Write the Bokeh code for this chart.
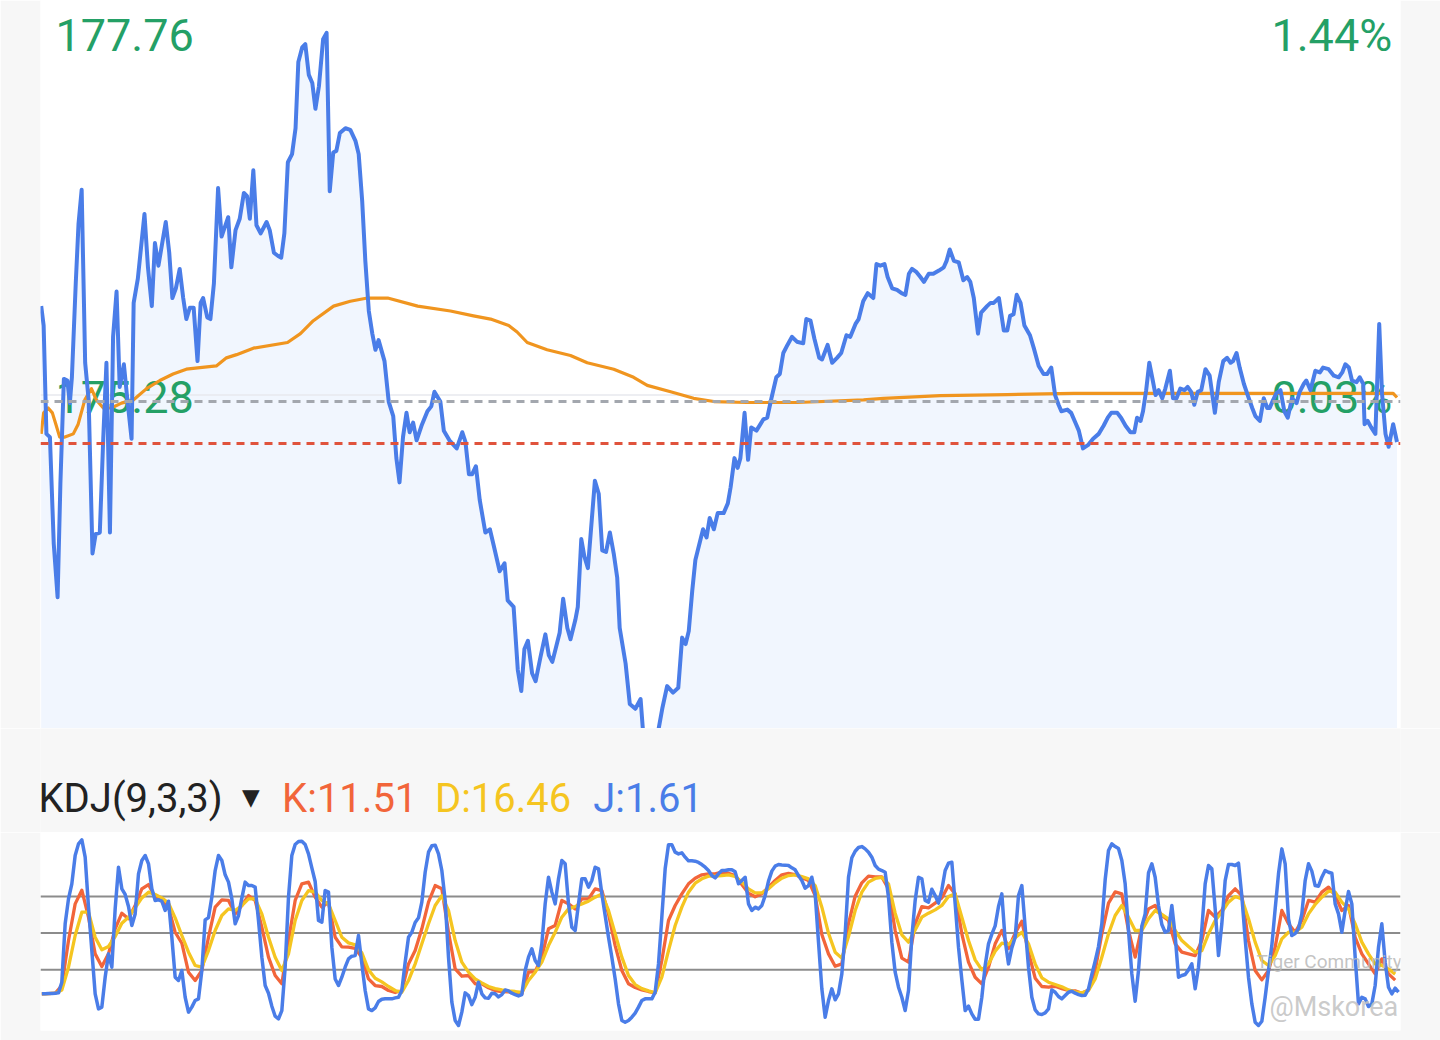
from bokeh.plotting import figure
from bokeh.layouts import column
from bokeh.models import Range1d, Span, Label
from bokeh.embed import file_html
from bokeh.resources import INLINE

# ------------------------------------------------------------------ data
# intraday price (minutes since open, price)
minutes = [0.2,0.9,1.7,2.7,3.8,4.9,5.7,6.7,7.7,8.4,
9.0,10.1,10.9,11.8,12.8,13.8,14.9,15.8,17.0,18.0,
18.9,19.9,20.8,21.8,22.7,23.9,25.0,26.1,26.7,27.9,
29.8,30.8,31.9,32.8,33.8,35.9,36.9,37.8,38.8,39.9,
40.9,41.8,42.8,43.9,45.0,45.9,46.6,47.8,48.7,49.7,
50.9,51.9,53.8,54.7,55.9,57.1,58.3,59.2,60.0,61.0,
61.9,63.1,64.8,65.7,66.9,68.1,69.0,69.9,70.9,72.1,
73.1,73.9,75.0,75.9,76.9,77.9,78.8,79.8,81.0,82.0,
82.9,83.9,84.8,85.8,87.4,88.8,90.3,91.2,92.2,93.1,
94.1,95.1,96.0,96.9,98.6,99.8,101.1,102.0,102.9,103.9,
104.9,105.8,106.8,107.8,109.2,110.9,112.0,112.9,114.6,115.6,
117.2,119.3,120.9,121.8,122.8,123.7,124.8,125.9,127.5,128.8,
129.9,131.6,133.0,133.9,135.6,136.8,137.8,138.7,139.7,140.9,
141.9,143.3,144.7,145.7,146.7,148.1,148.8,149.8,151.0,151.9,
153.3,154.0,155.0,155.9,156.9,158.9,160.0,161.0,162.1,163.2,
164.3,165.3,166.0,167.7,168.9,170.5,172.0,172.8,174.3,176.3,
177.2,178.2,179.6,181.3,182.8,183.9,184.9,185.8,186.8,187.7,
189.9,190.9,191.8,193.0,194.1,195.8,197.0,197.8,198.9,199.8,
200.6,201.8,202.8,203.7,205.2,207.2,208.3,209.5,210.9,211.9,
212.9,214.1,215.4,216.8,218.6,219.5,220.7,221.8,223.2,224.0,
225.6,226.9,228.3,229.5,231.0,232.1,233.6,234.5,235.8,237.1,
238.7,239.6,240.7,241.9,242.8,244.1,245.5,246.8,247.9,248.9,
249.8,251.1,252.2,253.2,254.6,255.9,257.5,258.9,259.7,260.6,
261.8,263.2,264.5,265.6,266.5,267.5,268.7,269.6,271.3,272.3,
273.2,274.7,276.1,277.1,277.9,278.9,279.8,280.9,282.0,283.6,
284.7,286.1,287.5,288.5,289.7,290.8,291.8,292.6,294.3,295.4,
296.6,297.6,298.8,300.2,301.7,303.3,304.7,305.9,306.9,308.6,
309.7,311.0,312.4,313.5,314.3,315.3,316.0,316.9,317.8,318.8,
319.6,320.5,321.5,322.4,323.7,324.6,325.6,326.7,327.9,328.8,
329.8,330.7,331.7,332.7,333.9,335.1,336.6,337.7,339.0,340.1,
341.1,341.8,342.8,343.7,344.9,346.0,347.3,348.2,349.5,350.6,
351.6,352.3,353.3,354.2,355.4,356.5,357.5,358.7,360.0,360.9,
362.1,362.8,364.0,365.4,366.7,367.6,369.2,370.7,372.1,373.1,
374.0,375.0,375.9,377.2,378.1,379.1,379.5,380.4,381.4,382.6,
383.7,384.5,385.5,386.4,387.7,388.8]

price = [175.87,175.75,175.08,175.06,174.40,174.07,174.77,175.42,175.41,175.27,
175.43,176.01,176.38,176.59,175.52,175.29,174.34,174.46,174.47,175.06,
175.52,174.47,175.68,175.96,175.37,175.51,175.27,175.05,175.89,176.04,
176.44,176.11,175.87,176.26,176.12,176.39,176.20,175.92,175.98,176.10,
175.92,175.79,175.86,175.86,175.53,175.89,175.92,175.80,175.79,176.01,
176.60,176.30,176.42,176.11,176.34,176.41,176.57,176.55,176.41,176.71,
176.37,176.32,176.39,176.34,176.20,176.18,176.17,176.32,176.76,176.81,
176.97,177.38,177.47,177.49,177.30,177.25,177.09,177.23,177.52,177.56,
176.58,176.82,176.83,176.94,176.97,176.96,176.89,176.81,176.52,176.15,
175.84,175.70,175.60,175.66,175.53,175.28,175.19,174.93,174.78,175.06,
175.21,175.09,175.15,175.04,175.13,175.22,175.25,175.34,175.28,175.10,
175.04,174.99,175.09,175.03,174.83,174.83,174.88,174.67,174.47,174.49,
174.39,174.23,174.28,174.05,174.01,173.62,173.49,173.75,173.80,173.60,
173.55,173.70,173.84,173.71,173.67,173.79,173.85,174.06,173.88,173.81,
173.93,174.01,174.43,174.32,174.25,174.79,174.71,174.36,174.35,174.47,
174.34,174.19,173.88,173.66,173.41,173.38,173.44,173.21,173.12,173.15,
173.26,173.38,173.52,173.48,173.51,173.82,173.78,173.86,174.11,174.30,
174.49,174.44,174.56,174.49,174.59,174.59,174.65,174.75,174.93,174.87,
174.93,175.21,174.92,175.12,175.10,175.17,175.18,175.30,175.43,175.45,
175.58,175.63,175.68,175.65,175.64,175.79,175.78,175.67,175.55,175.54,
175.63,175.52,175.55,175.58,175.69,175.68,175.76,175.79,175.90,175.95,
175.92,176.13,176.12,176.13,176.05,175.98,175.97,175.95,175.94,176.07,
176.10,176.08,176.05,176.02,176.07,176.07,176.09,176.11,176.15,176.22,
176.15,176.14,176.03,176.05,176.02,175.92,175.70,175.83,175.87,175.89,
175.89,175.92,175.72,175.72,175.81,175.82,175.94,175.89,175.75,175.69,
175.61,175.50,175.45,175.45,175.49,175.32,175.26,175.22,175.23,175.21,
175.15,175.10,174.99,175.01,175.05,175.08,175.13,175.18,175.21,175.21,
175.18,175.13,175.09,175.09,175.18,175.16,175.22,175.35,175.52,175.41,
175.32,175.35,175.30,175.36,175.47,175.30,175.30,175.36,175.35,175.37,
175.34,175.26,175.34,175.35,175.48,175.44,175.21,175.40,175.53,175.55,
175.52,175.53,175.58,175.49,175.39,175.32,175.24,175.19,175.16,175.30,
175.24,175.24,175.29,175.33,175.35,175.22,175.18,175.30,175.27,175.34,
175.39,175.41,175.35,175.47,175.46,175.49,175.48,175.44,175.43,175.46,
175.51,175.49,175.41,175.40,175.43,175.39,175.14,175.16,175.12,175.08,
175.76,175.33,175.08,175.00,175.14,175.03]

# average-price line
avg_minutes = [0.2,0.9,2.2,3.4,4.4,5.5,7.0,9.4,10.8,12.7,
14.6,16.0,18.0,20.3,23.2,26.6,30.4,34.2,38.0,41.8,
45.7,50.4,53.3,56.2,61.0,70.8,74.5,78.2,84.0,88.8,
93.7,99.5,108.1,117.5,124.1,129.0,134.2,136.6,139.5,145.2,
151.9,156.7,164.3,170.0,173.9,180.6,187.2,193.0,202.5,216.9,
235.9,241.6,257.9,277.1,296.1,341.9,370.6,387.7,388.8]
avg_price = [175.08,175.21,175.24,175.21,175.14,175.06,175.06,175.08,175.14,175.29,
175.36,175.29,175.24,175.24,175.27,175.29,175.36,175.41,175.45,175.48,
175.49,175.50,175.55,175.57,175.61,175.645,175.70,175.78,175.87,175.90,
175.92,175.92,175.87,175.84,175.81,175.79,175.75,175.71,175.645,175.60,
175.565,175.52,175.48,175.43,175.38,175.34,175.30,175.28,175.274,175.274,
175.29,175.30,175.317,175.323,175.33,175.33,175.33,175.33,175.305]

ref_price = 175.28      # grey dashed line
last_price = 175.02     # red dashed line
faint_level = 175.32
price_top_label = "177.76"
price_mid_label = "175.28"
pct_top_label = "1.44%"
pct_mid_label = "0.03%"

# KDJ(9,3,3): J for every bar, K and D for every second bar
J = [0.3,0.3,0.5,0.5,0.8,1.1,9.8,57.6,78.0,90.3,
113.5,123.0,126.3,112.1,71.2,35.7,0.3,-12.0,-10.6,13.9,
33.0,22.1,69.8,103.9,86.2,81.6,71.7,56.2,65.7,98.5,
109.4,113.5,106.7,86.2,76.7,77.2,76.1,68.5,76.1,46.6,
13.9,11.2,19.4,-2.5,-14.7,-10.6,-5.2,-3.8,19.4,60.8,
62.7,79.4,101.2,113.5,109.4,97.7,91.7,78.0,57.6,64.4,
78.6,91.7,88.9,88.9,87.6,60.3,30.3,7.1,0.8,-9.8,
-18.0,-20.2,-13.4,22.1,79.4,113.5,122.5,124.9,125.2,122.5,
114.8,103.4,92.2,60.3,58.9,84.8,83.5,38.5,12.5,7.1,
13.9,22.1,28.9,31.1,31.6,48.0,24.8,3.0,-12.0,-13.4,
-11.2,-6.0,-4.1,
-3.8,-3.8,-3.8,-3.0,-2.5,3.0,26.2,46.6,50.7,58.7,
62.5,75.3,99.8,116.2,121.4,121.9,114.8,101.2,76.7,30.3,
-6.5,-21.5,-25.6,-14.7,1.1,-1.1,-8.5,-2.5,9.8,0.3,
-3.0,-3.3,0.8,0.3,-2.2,-0.3,3.5,2.7,0.8,-0.3,
-1.4,-0.3,19.4,30.3,37.1,27.6,23.5,41.2,73.9,95.7,
83.5,73.9,94.4,109.4,106.7,73.9,54.8,52.1,73.9,94.4,
94.4,87.6,93.0,103.9,102.6,82.1,64.4,46.6,30.3,12.5,
-7.9,-21.5,-22.9,-21.5,-18.8,-15.5,-10.6,-5.2,-3.8,-3.8,
-3.8,1.6,24.8,63.0,102.6,122.2,122.2,116.2,114.8,115.7,
112.1,109.1,109.1,108.8,107.8,106.1,103.9,101.2,97.1,95.2,
98.5,101.2,
101.2,101.8,101.8,100.1,90.3,93.0,95.7,73.9,68.5,71.2,
69.8,72.6,80.7,92.5,100.7,104.8,106.1,105.8,105.6,105.3,
103.4,101.8,97.1,93.0,86.7,88.9,95.7,82.1,42.6,4.4,
-18.8,-5.2,4.4,-4.6,0.3,16.6,49.4,95.7,111.6,117.0,
120.0,120.8,118.9,116.2,112.1,105.3,102.3,101.2,99.8,79.4,
42.6,18.0,5.7,-2.5,-13.4,3.0,46.6,76.7,95.7,94.4,
76.7,75.3,85.9,80.7,74.5,85.4,101.2,107.2,108.0,73.9,
38.5,11.7,-13.4,-9.8,-16.1,-20.5,-20.5,-2.5,23.5,41.2,
49.1,55.9,71.7,82.1,43.9,24.8,37.9,46.6,80.7,88.9,
54.8,22.1,-2.5,-12.8,-16.1,-16.6,-15.3,-12.0,3.5,1.6,
-1.9,-3.8,
-1.1,1.6,2.5,0.8,-0.3,-1.1,-0.8,4.4,16.1,27.0,
39.0,57.6,93.6,117.6,123.0,120.8,119.2,109.4,90.3,52.1,
16.6,-5.7,19.4,55.6,65.7,99.3,106.7,95.7,72.6,57.0,
50.7,52.1,72.6,48.0,13.9,15.3,16.1,19.9,24.8,4.4,
22.1,53.5,90.3,105.3,102.6,69.8,31.6,57.6,93.0,106.1,
106.1,105.3,107.2,80.2,45.3,13.9,-7.9,-22.9,-25.6,-22.1,
-2.5,19.4,39.8,69.8,98.5,118.9,106.7,61.7,48.0,49.6,
53.5,65.7,93.0,106.7,100.7,88.9,88.4,95.7,101.2,99.8,
99.0,73.9,65.7,50.7,68.5,84.0,73.9,30.3,-7.9,-2.5,
-3.8,-10.1,-7.9,7.1,38.5,57.6,26.2,5.7,0.3,4.9,
1.61]

K = [0.3,0.5,0.8,7.1,43.9,73.9,85.1,63.0,33.0,22.6,
33.0,53.5,66.3,61.7,72.6,86.2,89.7,79.4,76.1,71.2,
50.7,41.7,18.0,11.2,19.4,46.6,71.2,77.2,76.7,65.7,
72.6,80.7,76.7,54.8,30.3,15.3,8.5,43.9,76.7,90.3,
91.7,79.4,71.2,75.3,46.6,38.7,38.5,37.4,30.3,12.5,
7.1,6.3,
3.0,1.4,3.0,24.8,35.7,53.5,75.3,88.9,86.2,50.7,
20.7,14.7,15.3,8.5,8.5,5.2,3.0,2.2,1.9,1.4,
0.3,18.0,18.5,30.3,53.5,56.2,76.7,73.9,69.8,78.0,
78.0,86.2,84.8,65.7,39.8,19.4,8.5,5.5,3.5,2.2,
1.1,27.6,60.3,72.6,82.1,90.3,94.9,97.7,98.5,98.5,
99.8,
99.0,97.1,89.7,82.7,79.7,82.1,87.6,93.0,97.7,98.8,
97.9,95.2,93.0,80.7,48.8,33.0,22.9,24.8,57.6,80.2,
91.1,96.6,96.0,96.0,86.2,52.1,29.5,26.2,57.6,71.7,
70.7,74.5,78.8,88.9,82.1,49.4,26.2,13.9,8.5,22.1,
41.2,52.1,37.4,49.9,59.7,34.4,13.1,6.3,5.7,6.5,
4.6,
3.0,2.7,0.8,3.5,19.4,49.4,74.5,83.7,82.1,52.1,
30.3,54.8,69.8,72.6,64.4,60.3,41.2,34.4,33.0,31.6,
43.9,68.5,63.0,68.5,80.7,86.2,80.7,43.9,19.4,11.7,
19.4,38.5,68.5,57.6,50.7,60.3,76.7,75.3,83.5,87.6,
80.7,68.5,72.6,46.6,33.0,24.8,16.6,28.9,16.6,11.51]

D = [0.3,0.5,0.8,3.5,22.1,48.0,67.1,67.1,46.6,36.3,
39.0,47.2,58.1,63.0,70.7,78.8,83.5,81.6,78.8,74.5,
62.5,48.0,34.4,23.5,22.1,35.7,52.1,64.4,69.8,68.5,
72.6,78.0,78.0,65.7,46.6,30.3,19.4,33.0,60.3,76.7,
84.8,83.5,76.7,73.9,60.3,46.6,42.0,40.4,33.8,19.9,
13.1,10.1,
6.3,3.0,1.6,11.2,24.8,41.2,57.6,72.6,80.7,68.5,
43.9,26.2,18.0,12.5,9.3,6.3,4.6,3.5,2.7,2.2,
1.4,11.2,18.0,26.2,39.8,50.7,63.0,69.8,71.7,73.9,
76.1,79.4,82.1,68.5,49.4,30.3,15.3,7.9,4.6,2.7,
1.1,13.9,35.7,56.2,71.2,83.5,90.8,94.4,96.6,96.6,
97.1,
97.7,96.3,91.7,86.2,82.9,82.9,86.2,91.1,94.9,97.1,
97.7,96.3,94.4,88.9,71.2,49.9,34.4,29.5,47.2,68.5,
83.5,91.7,94.7,95.5,90.3,66.3,48.6,42.6,52.6,63.0,
66.3,69.0,72.6,79.9,82.1,63.0,43.9,28.1,19.9,24.8,
35.2,41.7,40.6,46.1,50.7,41.2,24.8,13.4,9.8,7.9,
6.0,
3.5,1.9,1.1,3.0,12.5,30.3,49.4,64.4,72.6,63.0,
52.1,52.1,61.7,68.5,65.2,61.7,52.1,43.9,39.0,34.4,
35.7,49.4,60.3,67.1,75.3,79.9,78.0,61.7,42.6,27.6,
23.5,31.6,45.3,50.7,50.7,54.8,65.7,73.4,79.4,84.3,
83.5,75.3,69.8,57.6,42.6,33.0,24.8,23.5,20.7,16.46]

kdj_levels = [20, 50, 80]
kdj_title = "KDJ(9,3,3)"
k_text = "K:11.51"
d_text = "D:16.46"
j_text = "J:1.61"

# ------------------------------------------------------------------ styles
BG = "#f7f7f7"
BLUE = "#4a7de8"
FILL = "#f1f6fe"
ORANGE = "#f0951f"
GREEN = "#24a066"
K_COL = "#f2653a"
D_COL = "#f5c520"
FONT = "Roboto"
W = 1440

n = min(len(minutes), len(price))
mx, py = minutes[:n], price[:n]

# ------------------------------------------------------------------ price panel
Y0, Y1 = 173.258, 177.76
p1 = figure(width=W, height=728, output_backend="svg", toolbar_location=None,
            x_axis_location=None, y_axis_location=None,
            x_range=Range1d(0, 389.8), y_range=Range1d(Y0, Y1),
            min_border_left=40, min_border_right=40,
            min_border_top=0, min_border_bottom=0)
p1.grid.visible = False
p1.outline_line_color = None
p1.background_fill_color = "white"
p1.border_fill_color = BG

p1.varea(x=mx, y1=[Y0 - 1] * n, y2=py, fill_color=FILL, level="underlay")
p1.add_layout(Span(location=faint_level, dimension="width", line_color="#e7e9ee",
                   line_width=1.5, level="underlay"))

for txt, xx, yy, al in [(price_top_label, 4.3, 177.544, "left"),
                        (price_mid_label, 4.3, 175.308, "left"),
                        (pct_top_label, 387.4, 177.544, "right"),
                        (pct_mid_label, 387.4, 175.308, "right")]:
    p1.add_layout(Label(x=xx, y=yy, text=txt, text_font=FONT, text_font_size="45px",
                        text_color=GREEN, text_align=al, text_baseline="middle",
                        level="underlay"))

p1.line(avg_minutes, avg_price, line_color=ORANGE, line_width=3.2, line_join="round")
p1.line(mx, py, line_color=BLUE, line_width=4, line_join="round")

p1.add_layout(Span(location=ref_price, dimension="width", line_color="#a3a7ae",
                   line_width=3, line_dash="8 6"))
p1.add_layout(Span(location=last_price, dimension="width", line_color="#e0533c",
                   line_width=3, line_dash="8 6"))

# ------------------------------------------------------------------ KDJ header strip
pt = figure(width=W, height=104, output_backend="svg", toolbar_location=None,
            x_axis_location=None, y_axis_location=None,
            x_range=Range1d(0, 1360), y_range=Range1d(0, 104),
            min_border_left=40, min_border_right=40,
            min_border_top=0, min_border_bottom=0)
pt.grid.visible = False
pt.outline_line_color = None
pt.background_fill_color = BG
pt.border_fill_color = BG
for txt, xx, col in [(kdj_title, -2.0, "#222222"), (k_text, 241.6, K_COL),
                     (d_text, 394.4, D_COL), (j_text, 552.8, BLUE)]:
    pt.add_layout(Label(x=xx, y=34.5, text=txt, text_font=FONT, text_font_size="40px",
                        text_color=col, text_baseline="middle"))
pt.add_layout(Label(x=201.5, y=36, text="▼", text_font="DejaVu Sans",
                    text_font_size="23px", text_color="#222222", text_baseline="middle"))

# ------------------------------------------------------------------ KDJ panel
p2 = figure(width=W, height=208, output_backend="svg", toolbar_location=None,
            x_axis_location=None, y_axis_location=None,
            x_range=Range1d(-0.4, 407.6), y_range=Range1d(-29.7, 132.3),
            min_border_left=40, min_border_right=40,
            min_border_top=0, min_border_bottom=10)
p2.grid.visible = False
p2.outline_line_color = None
p2.background_fill_color = "white"
p2.border_fill_color = BG

for lv in kdj_levels:
    p2.add_layout(Span(location=lv, dimension="width", line_color="#8c8c8c",
                       line_width=2, level="underlay"))

j_x = list(range(len(J)))
kd_x = [2 * i for i in range(len(K))]
p2.line(kd_x, K, line_color=K_COL, line_width=3.3, line_join="round")
p2.line(kd_x[:len(D)], D, line_color=D_COL, line_width=3.3, line_join="round")
p2.line(j_x, J, line_color=BLUE, line_width=3.5, line_join="round")

# watermark
p2.add_layout(Label(x=364.4, y=26.8, text="Tiger Community", text_font=FONT,
                    text_font_size="19px", text_color="#b8b8b8", text_alpha=0.85,
                    text_baseline="middle"))
p2.add_layout(Label(x=406.9, y=-10.1, text="@Mskorea", text_font=FONT,
                    text_font_size="27px", text_color="#c4c4c4", text_alpha=0.9,
                    text_align="right", text_baseline="middle"))

p = column(p1, pt, p2, spacing=0)
open("out.html", "w").write(file_html(p, INLINE))
